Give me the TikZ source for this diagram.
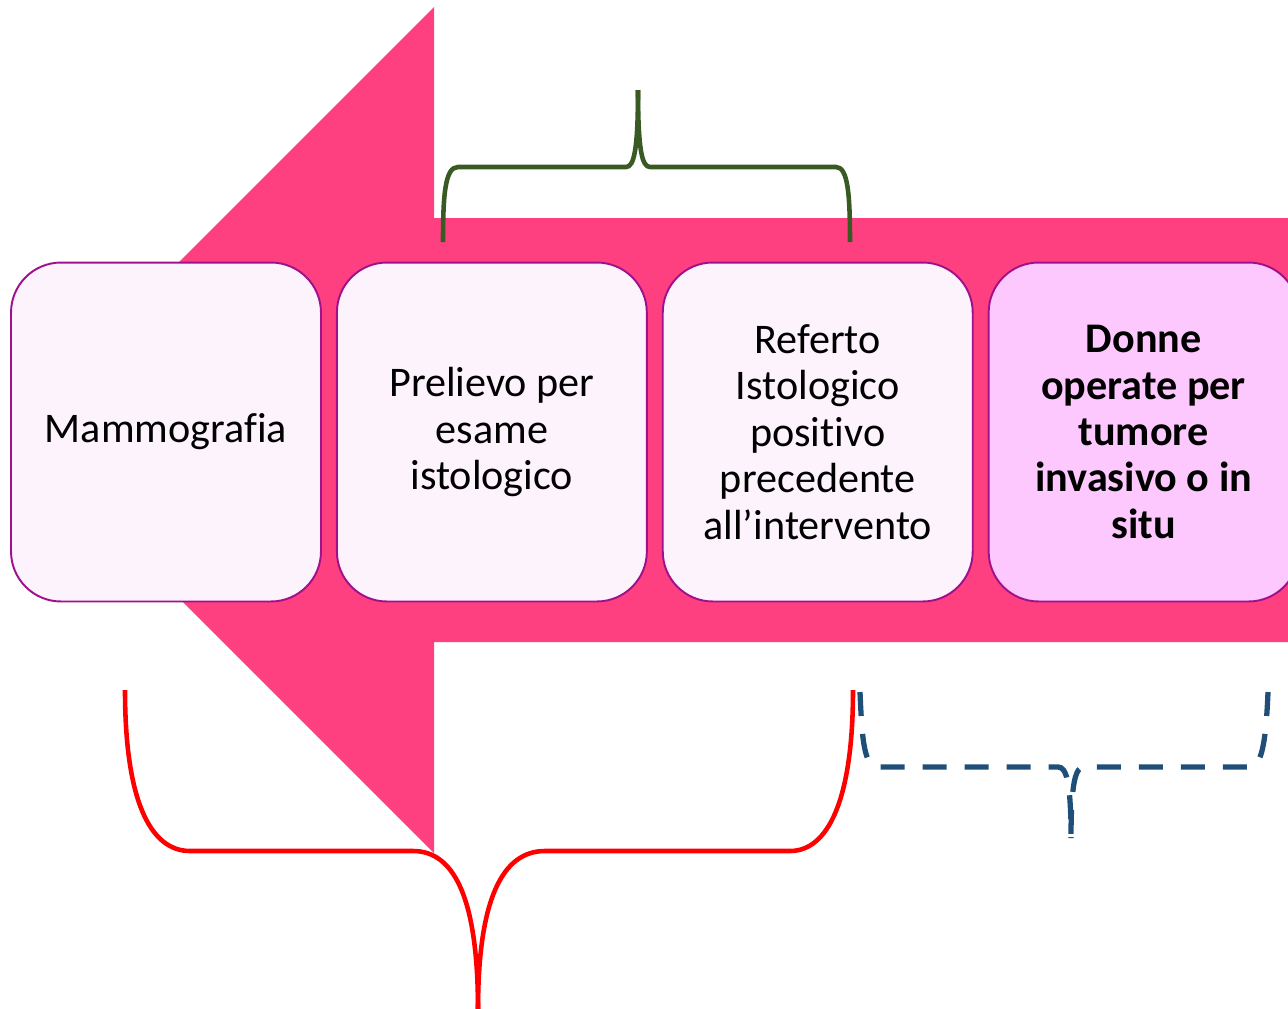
\documentclass[tikz,border=0pt]{standalone}
\usepackage{fontspec}
\setmainfont{Carlito}[Ligatures=NoCommon]
\usepackage{tikz}
\usetikzlibrary{positioning}
\usepackage{xcolor}
\definecolor{arrowpink}{HTML}{FF4080}
\definecolor{boxedge}{HTML}{A0108C}
\definecolor{boxfill}{HTML}{FDF3FD}
\definecolor{boxfillhi}{HTML}{FDC8FD}
\definecolor{bracegreen}{HTML}{3A5A24}
\definecolor{braceblue}{HTML}{1F4E79}

\begin{document}
\begin{tikzpicture}[
        x=0.02cm, y=-0.02cm,
        node distance=0.28cm,
        stage/.style={
            draw=boxedge,
            fill=boxfill,
            line width=1.1pt,
            rounded corners=1cm,
            minimum width=6.2cm,
            minimum height=6.78cm,
            align=center,
            inner sep=2pt,
            font=\fontsize{24}{26.4}\selectfont
        },
        stagelast/.style={stage, fill=boxfillhi, font=\fontsize{24}{26.4}\selectfont\bfseries},
        brace/.style={line width=2.6pt, line cap=butt},
        greenbrace/.style={brace, bracegreen},
        redbrace/.style={brace, red},
        bluebrace/.style={brace, braceblue, line width=3pt, dash pattern=on 0.48cm off 0.36cm}
    ]
        \useasboundingbox (0,0) rectangle (1288,1008);
        \clip (0,0) rectangle (1288,1008);

        % Big arrow pointing left
        \fill[arrowpink] (11,430) -- (434,7) -- (434,218) -- (1300,218)
            -- (1300,642) -- (434,642) -- (434,853) -- cycle;

        % Stages along the arrow
        \node[stage] (mammo) at (166,432) {Mammografia};
        \node[stage, right=of mammo] (prelievo) {Prelievo per\\esame\\istologico};
        \node[stage, right=of prelievo] (referto) {Referto\\Istologico\\positivo\\precedente\\all’intervento};
        \node[stagelast, right=of referto] (donne) {Donne\\operate per\\tumore\\invasivo o in\\situ};

        % Brace above
        \draw[greenbrace] (443,242) .. controls (443,195) and (445,167) .. (458,167)
            -- (626,167) .. controls (634,167) and (638,150) .. (638,90);
        \draw[greenbrace] (850,242) .. controls (850,195) and (848,167) .. (836,167)
            -- (650,167) .. controls (642,167) and (638,150) .. (638,90);

        % Brace below
        \draw[redbrace] (125,690) .. controls (125,800) and (150,851) .. (190,851)
            -- (413,851) .. controls (455,851) and (478,900) .. (478,1010);
        \draw[redbrace] (853,690) .. controls (853,800) and (828,851) .. (790,851)
            -- (545,851) .. controls (502,851) and (478,900) .. (478,1010);

        % Dashed brace
        \draw[bluebrace] (860,692) .. controls (862,740) and (864,767) .. (878,767)
            -- (1058,767) .. controls (1066,767) and (1071,780) .. (1071,838);
        \draw[bluebrace] (1268,692) .. controls (1266,740) and (1262,767) .. (1250,767)
            -- (1084,767) .. controls (1076,767) and (1071,780) .. (1071,838);
    \end{tikzpicture}
\end{document}
